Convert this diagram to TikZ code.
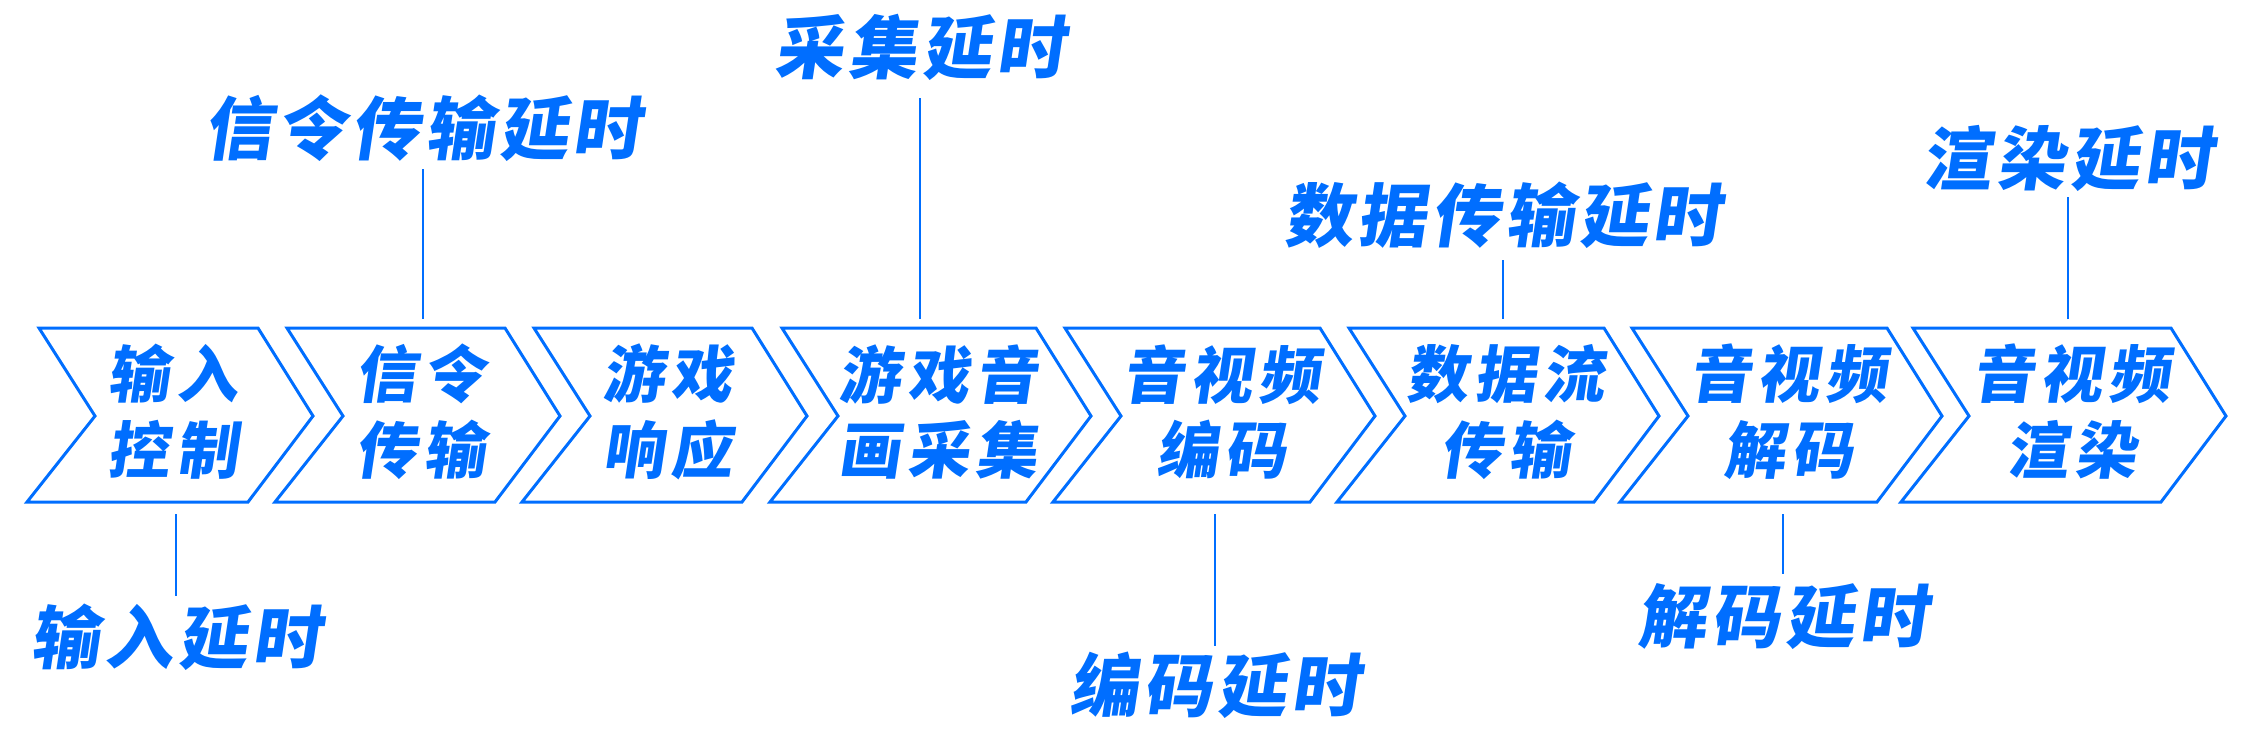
\documentclass[tikz,border=0pt]{standalone}
\usepackage{fontspec}
\usetikzlibrary{positioning}
\newfontfamily\stagefont[FakeSlant=0.15,LetterSpace=10]{Noto Sans CJK SC}
\newfontfamily\lagfont[FakeSlant=0.15,LetterSpace=7]{Noto Sans CJK SC}
\definecolor{flowblue}{HTML}{006EFF}

\begin{document}
\begin{tikzpicture}[
   x=0.01cm,y=-0.01cm,
   chev/.style={draw=flowblue,line width=0.85pt,line join=miter},
   stage/.style={text=flowblue,align=center,inner sep=0pt,
                 font=\stagefont\bfseries\fontsize{17.6}{21.6}\selectfont},
   lag/.style={text=flowblue,inner sep=0pt,
               font=\lagfont\bfseries\fontsize{19.6}{24}\selectfont},
   tick/.style={flowblue,line width=0.8pt}
]
\useasboundingbox (0,0) rectangle (2250,732);

% Stages: chevrons with their names
\foreach \L/\w/\nm/\txt in {39/219/c1/{输入\\控制}, 287/218/c2/{信令\\传输},
      534/218/c3/{游戏\\响应}, 782/254/c4/{游戏音\\画采集},
      1065/255/c5/{音视频\\编码}, 1349/255/c6/{数据流\\传输},
      1632/255/c7/{音视频\\解码}, 1913/258/c8/{音视频\\渲染}}{
   \draw[chev] (\L,328) -- ++(\w,0) -- ++(55,88) -- ++(-65,86)
      -- ({\L-12},502) -- ({\L+56},416) -- cycle;
   \node[stage] (\nm) at ({\L+0.63*\w-4},412) {\txt};
}

% Latency labels
\node[lag] (l1) at (176,637) {输入延时};
\node[lag] (l2) at (423,128) {信令传输延时};
\node[lag] (l3) at (920,47) {采集延时};
\node[lag] (l4) at (1215,685) {编码延时};
\node[lag] (l5) at (1503,215) {数据传输延时};
\node[lag] (l6) at (1783,617) {解码延时};
\node[lag] (l7) at (2068,158) {渲染延时};

% Ticks between chevrons and labels
\draw[tick] (l1 |- 0,514) -- (l1 |- 0,596);
\draw[tick] (l2 |- 0,319) -- (l2 |- 0,169);
\draw[tick] (l3 |- 0,319) -- (l3 |- 0,98);
\draw[tick] (l4 |- 0,514) -- (l4 |- 0,646);
\draw[tick] (l5 |- 0,319) -- (l5 |- 0,260);
\draw[tick] (l6 |- 0,514) -- (l6 |- 0,574);
\draw[tick] (l7 |- 0,319) -- (l7 |- 0,197);

\end{tikzpicture}
\end{document}
